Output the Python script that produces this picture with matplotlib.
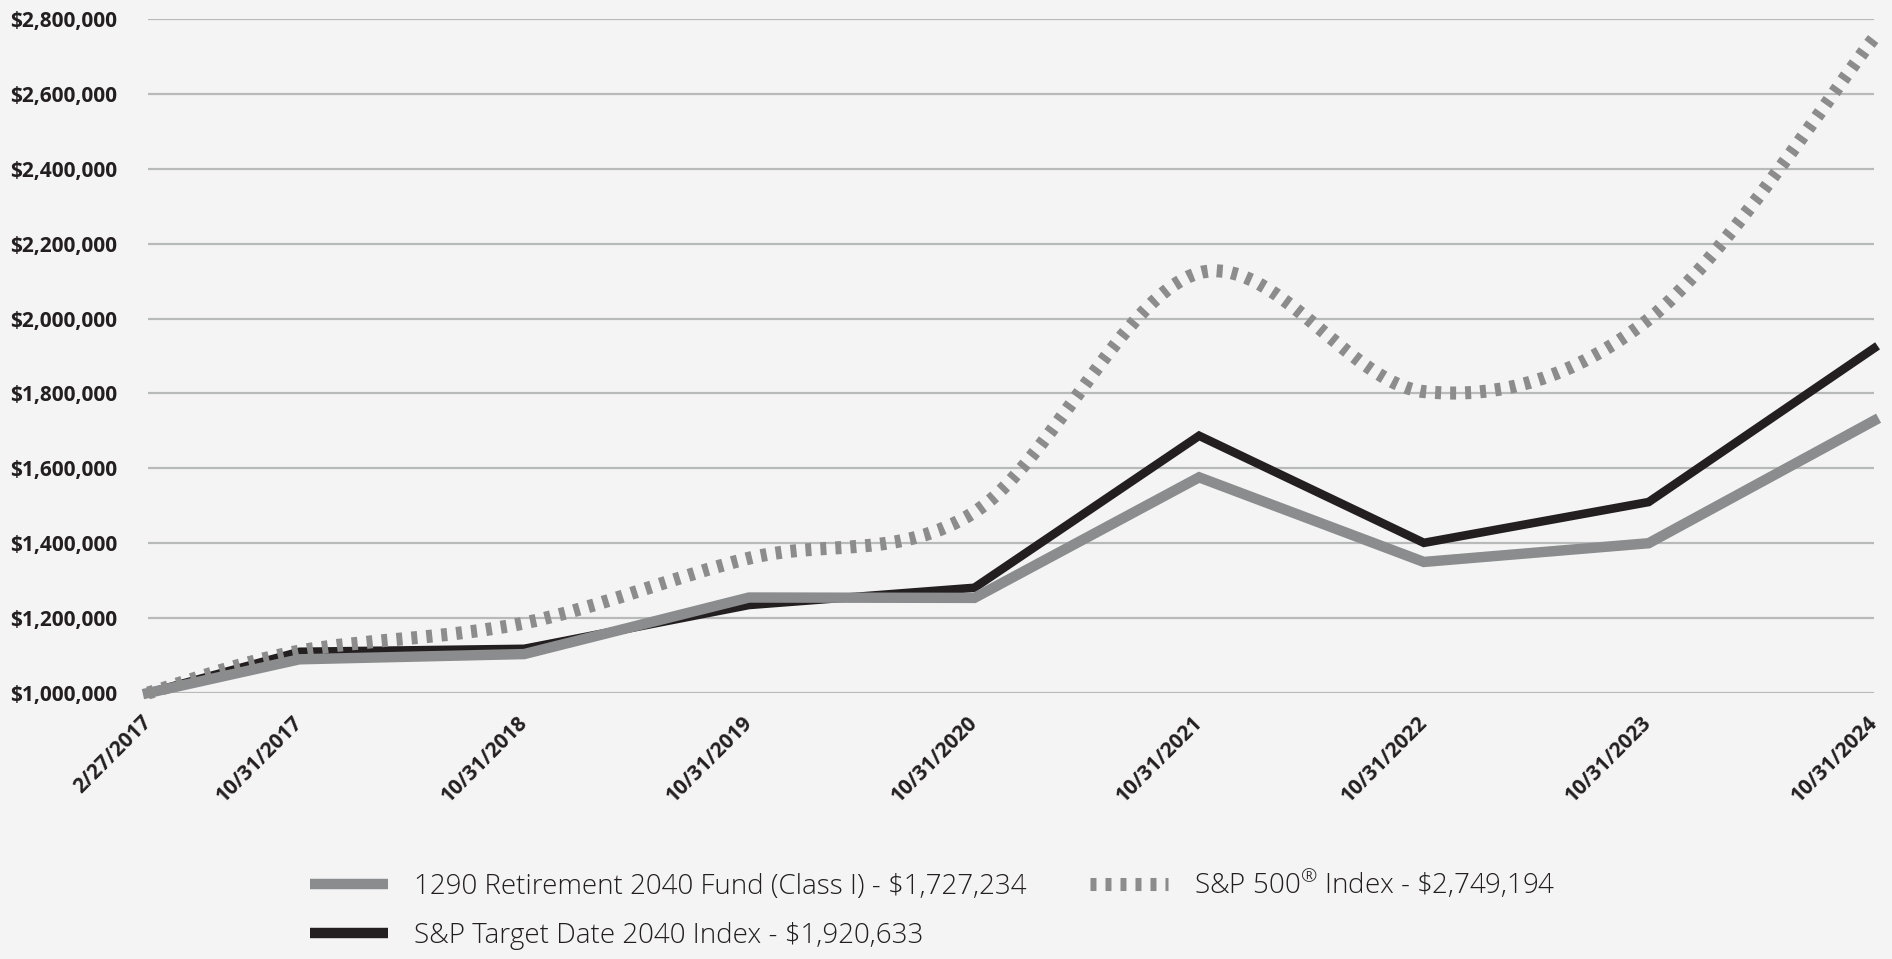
import matplotlib
matplotlib.use("Agg")
import matplotlib.pyplot as plt
import matplotlib.dates as mdates
from matplotlib.path import Path
from matplotlib.patches import PathPatch
from matplotlib.lines import Line2D
from matplotlib.ticker import FuncFormatter
import numpy as np
import datetime as dt

dates = ["2017-02-27", "2017-10-31", "2018-10-31", "2019-10-31", "2020-10-31",
         "2021-10-31", "2022-10-31", "2023-10-31", "2024-10-31"]
tick_labels = ["2/27/2017", "10/31/2017", "10/31/2018", "10/31/2019", "10/31/2020",
               "10/31/2021", "10/31/2022", "10/31/2023", "10/31/2024"]
fund = [1000000, 1090000, 1104000, 1255000, 1254000, 1576000, 1350000, 1400000, 1727234]
target = [1000000, 1110000, 1118000, 1235000, 1281000, 1687000, 1401000, 1510000, 1920633]
sp500 = [1000000, 1112000, 1187000, 1360000, 1483000, 2122000, 1805000, 1998000, 2749194]
labels = ["1290 Retirement 2040 Fund (Class I) - $1,727,234",
          "S&P Target Date 2040 Index - $1,920,633",
          r"S&P 500$^{\circledR}$ Index - \$2,749,194"]

BG = "#f3f4f3"
C_FUND = "#8b8c8e"
C_TGT = "#231f20"
C_SP = "#8c8c8c"
C_GRID = "#b8b9b9"
C_TXT = "#231f20"

plt.rcParams['font.family'] = ['Open Sans', 'DejaVu Sans']
plt.rcParams['lines.scale_dashes'] = False
plt.rcParams['mathtext.fontset'] = 'custom'
plt.rcParams['mathtext.rm'] = 'Open Sans'
plt.rcParams['mathtext.default'] = 'regular'

fig = plt.figure(figsize=(18.92, 9.59), dpi=100, facecolor=BG)
ax = fig.add_axes([148/1892, 1-693/959, (1874-148)/1892, (693-19)/959])
ax.set_facecolor(BG)

x = mdates.date2num([dt.datetime.strptime(d, "%Y-%m-%d") for d in dates])

ax.set_xlim(x[0], x[-1])
ax.set_ylim(1000000, 2800000)
ax.set_yticks(np.arange(1000000, 2800001, 200000))
ax.yaxis.set_major_formatter(FuncFormatter(lambda v, p: "${:,.0f}".format(v)))
ax.set_xticks(x)
ax.set_xticklabels(tick_labels, rotation=45, ha='right', va='center',
                   rotation_mode='anchor')
for s in ax.spines.values():
    s.set_visible(False)
ax.grid(axis='y', color=C_GRID, lw=1.6)
ax.grid(axis='x', visible=False)
ax.set_axisbelow(True)
ax.tick_params(axis='both', length=0, colors=C_TXT)
ax.tick_params(axis='y', pad=22)
ax.tick_params(axis='x', pad=19)
for lab in ax.get_yticklabels() + ax.get_xticklabels():
    lab.set_fontweight('bold')
    lab.set_fontsize(15)
    lab.set_color(C_TXT)

# lines
ax.plot(x, target, color=C_TGT, lw=6.2, solid_joinstyle='miter', zorder=3, clip_on=False)
ax.plot(x, fund, color=C_FUND, lw=7.5, solid_joinstyle='miter', zorder=4, clip_on=False)

# smoothed S&P 500 line (Catmull-Rom -> cubic Bezier in data coords)
pts = np.column_stack([x, np.array(sp500, dtype=float)])
verts = [tuple(pts[0])]
codes = [Path.MOVETO]
n = len(pts)
for i in range(n - 1):
    p0 = pts[i - 1] if i > 0 else pts[i]
    p1 = pts[i]
    p2 = pts[i + 1]
    p3 = pts[i + 2] if i + 2 < n else pts[i + 1]
    c1 = p1 + (p2 - p0) / 6.0
    c2 = p2 - (p3 - p1) / 6.0
    verts += [tuple(c1), tuple(c2), tuple(p2)]
    codes += [Path.CURVE4, Path.CURVE4, Path.CURVE4]
sp_dash = (0, (4.3, 6.5))
patch = PathPatch(Path(verts, codes), fill=False, edgecolor=C_SP, lw=9.4,
                  linestyle=sp_dash, capstyle='butt', zorder=5, clip_on=False)
ax.add_patch(patch)

# legend
h_fund = Line2D([], [], color=C_FUND, lw=7.5, solid_capstyle='butt')
h_tgt = Line2D([], [], color=C_TGT, lw=7.5, solid_capstyle='butt')
h_sp = Line2D([], [], color=C_SP, lw=9.4, linestyle=sp_dash, dash_capstyle='butt')
leg = fig.legend([h_fund, h_tgt, h_sp], labels, ncol=2, frameon=False,
                 loc='upper left', bbox_to_anchor=(285/1892, 1-843/959),
                 prop={'family': ['Open Sans', 'DejaVu Sans'], 'weight': 'light', 'size': 20},
                 handlelength=2.8, handletextpad=0.94, columnspacing=2.3,
                 labelspacing=0.74)
for t in leg.get_texts():
    t.set_color(C_TXT)

fig.savefig("out.png", dpi=100, facecolor=BG)
